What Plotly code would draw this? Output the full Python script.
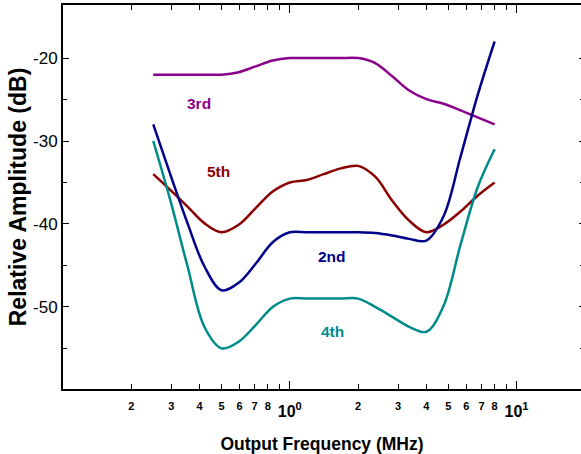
import math
import plotly.graph_objects as go

# Output frequency (MHz) at which the curves were read
freqs = [0.25, 0.297, 0.354, 0.42, 0.5, 0.595, 0.707, 0.841, 1.0, 1.19, 1.41, 1.68,
         2.0, 2.38, 2.83, 3.36, 4.0, 4.76, 5.66, 6.73, 8.0]

# Relative amplitude (dB) of each harmonic
second = [-28.0, -34.0, -39.9, -45.1, -48.0, -47.1, -44.8, -42.2, -41.0, -41.0, -41.0, -41.0,
          -41.0, -41.1, -41.4, -41.8, -42.0, -39.1, -31.9, -24.5, -18.0]
third = [-22.0, -22.0, -22.0, -22.0, -22.0, -21.7, -21.0, -20.3, -20.0, -20.0, -20.0, -20.0,
         -20.0, -20.6, -22.2, -23.9, -24.95, -25.5, -26.3, -27.15, -28.0]
fourth = [-30.0, -37.1, -45.1, -52.4, -55.0, -54.2, -52.2, -50.0, -49.0, -49.0, -49.0, -49.0,
          -49.0, -50.0, -51.2, -52.4, -53.0, -49.9, -42.5, -35.6, -31.0]
fifth = [-34.0, -35.9, -37.9, -39.9, -41.0, -40.1, -38.1, -36.1, -35.0, -34.7, -34.0, -33.3,
         -33.0, -34.3, -37.2, -39.6, -41.0, -40.1, -38.5, -36.6, -35.0]

series_names = ["3rd", "5th", "2nd", "4th"]
series_values = [third, fifth, second, fourth]
series_colors = ["#8B008B", "#8B0000", "#00008B", "#008B8B"]

# Axis ticks
x_tickvals = [0.2, 0.3, 0.4, 0.5, 0.6, 0.7, 0.8, 2, 3, 4, 5, 6, 7, 8]
x_ticktext = ["2", "3", "4", "5", "6", "7", "8", "2", "3", "4", "5", "6", "7", "8"]
x_unlabeled = [0.9, 9]
x_decades = [1, 10]
x_decade_text = ["10<sup>0</sup>", "10<sup>1</sup>"]
y_tickvals = [-50, -40, -30, -20]
y_ticktext = ["-50", "-40", "-30", "-20"]
y_minorvals = [-55, -45, -35, -25]

FONT = "Liberation Sans, Arial, Helvetica, sans-serif"
CLEAR = "rgba(0,0,0,0)"

fig = go.Figure()
for name, vals, col in zip(series_names, series_values, series_colors):
    fig.add_trace(go.Scatter(
        x=freqs, y=vals, mode="lines", name=name,
        line=dict(color=col, width=2.5, shape="spline", smoothing=1.0),
        showlegend=False, hoverinfo="skip"))

# transparent copies so the secondary (tick-only) axes are drawn
fig.add_trace(go.Scatter(x=freqs, y=third, xaxis="x2", yaxis="y", mode="lines",
                         line=dict(color=CLEAR, width=0), showlegend=False, hoverinfo="skip"))
fig.add_trace(go.Scatter(x=freqs, y=third, xaxis="x", yaxis="y2", mode="lines",
                         line=dict(color=CLEAR, width=0), showlegend=False, hoverinfo="skip"))

label_pos = {"3rd": (0.397, -25.45), "5th": (0.483, -33.7),
             "2nd": (1.535, -43.9), "4th": (1.537, -53.0)}
for name, col in zip(series_names, series_colors):
    lx, ly = label_pos[name]
    fig.add_annotation(x=math.log10(lx), y=ly, xref="x", yref="y",
                       text=name, showarrow=False,
                       font=dict(family=FONT, size=15.5, color=col, weight="bold"))

xrange = [-1, 1.284]
yrange = [-59.9, -13.6]

fig.update_layout(
    width=581, height=454,
    margin=dict(l=63, r=0, t=5, b=65),
    paper_bgcolor="white", plot_bgcolor="white",
    font=dict(family=FONT, color="black"),
    xaxis=dict(
        type="log", range=xrange, tickmode="array",
        tickvals=x_tickvals, ticktext=x_ticktext,
        ticks="inside", ticklen=5, tickwidth=1, tickcolor="black",
        minor=dict(tickmode="array", tickvals=x_unlabeled, ticks="inside",
                   ticklen=5, tickwidth=1, tickcolor="black"),
        showline=True, linewidth=2, linecolor="black", mirror="ticks",
        showgrid=False, zeroline=False,
        tickfont=dict(family=FONT, size=11, color="black", weight="bold"),
        ticklabelstandoff=6,
        title=dict(text="Output Frequency (MHz)", standoff=27,
                   font=dict(family=FONT, size=17.5, color="black", weight="bold")),
    ),
    xaxis2=dict(
        type="log", range=xrange, overlaying="x", anchor="y", side="bottom",
        tickmode="array", tickvals=x_decades, ticktext=x_decade_text,
        ticks="inside", ticklen=8, tickwidth=1, tickcolor="black",
        showline=False, mirror="ticks", showgrid=False, zeroline=False,
        tickfont=dict(family=FONT, size=16, color="black", weight="bold"),
        ticklabelstandoff=11,
    ),
    yaxis=dict(
        range=yrange, tickmode="array", tickvals=y_tickvals, ticktext=y_ticktext,
        ticks="inside", ticklen=6, tickwidth=1, tickcolor="black",
        minor=dict(tickmode="array", tickvals=y_minorvals, ticks="inside",
                   ticklen=4, tickwidth=1, tickcolor="black"),
        showline=True, linewidth=2, linecolor="black", mirror=False,
        showgrid=False, zeroline=False,
        tickfont=dict(family=FONT, size=17, color="black"),
        title=dict(text="Relative Amplitude (dB)", standoff=0,
                   font=dict(family=FONT, size=23, color="black", weight="bold")),
    ),
    yaxis2=dict(
        range=yrange, overlaying="y", anchor="x", side="right",
        tickmode="array", tickvals=y_tickvals, ticks="inside", ticklen=2,
        tickwidth=1, tickcolor="black",
        minor=dict(tickmode="array", tickvals=y_minorvals, ticks="inside",
                   ticklen=1, tickwidth=1, tickcolor="black"),
        showticklabels=False, showline=False, showgrid=False, zeroline=False,
    ),
)

fig.write_html("out.html")
